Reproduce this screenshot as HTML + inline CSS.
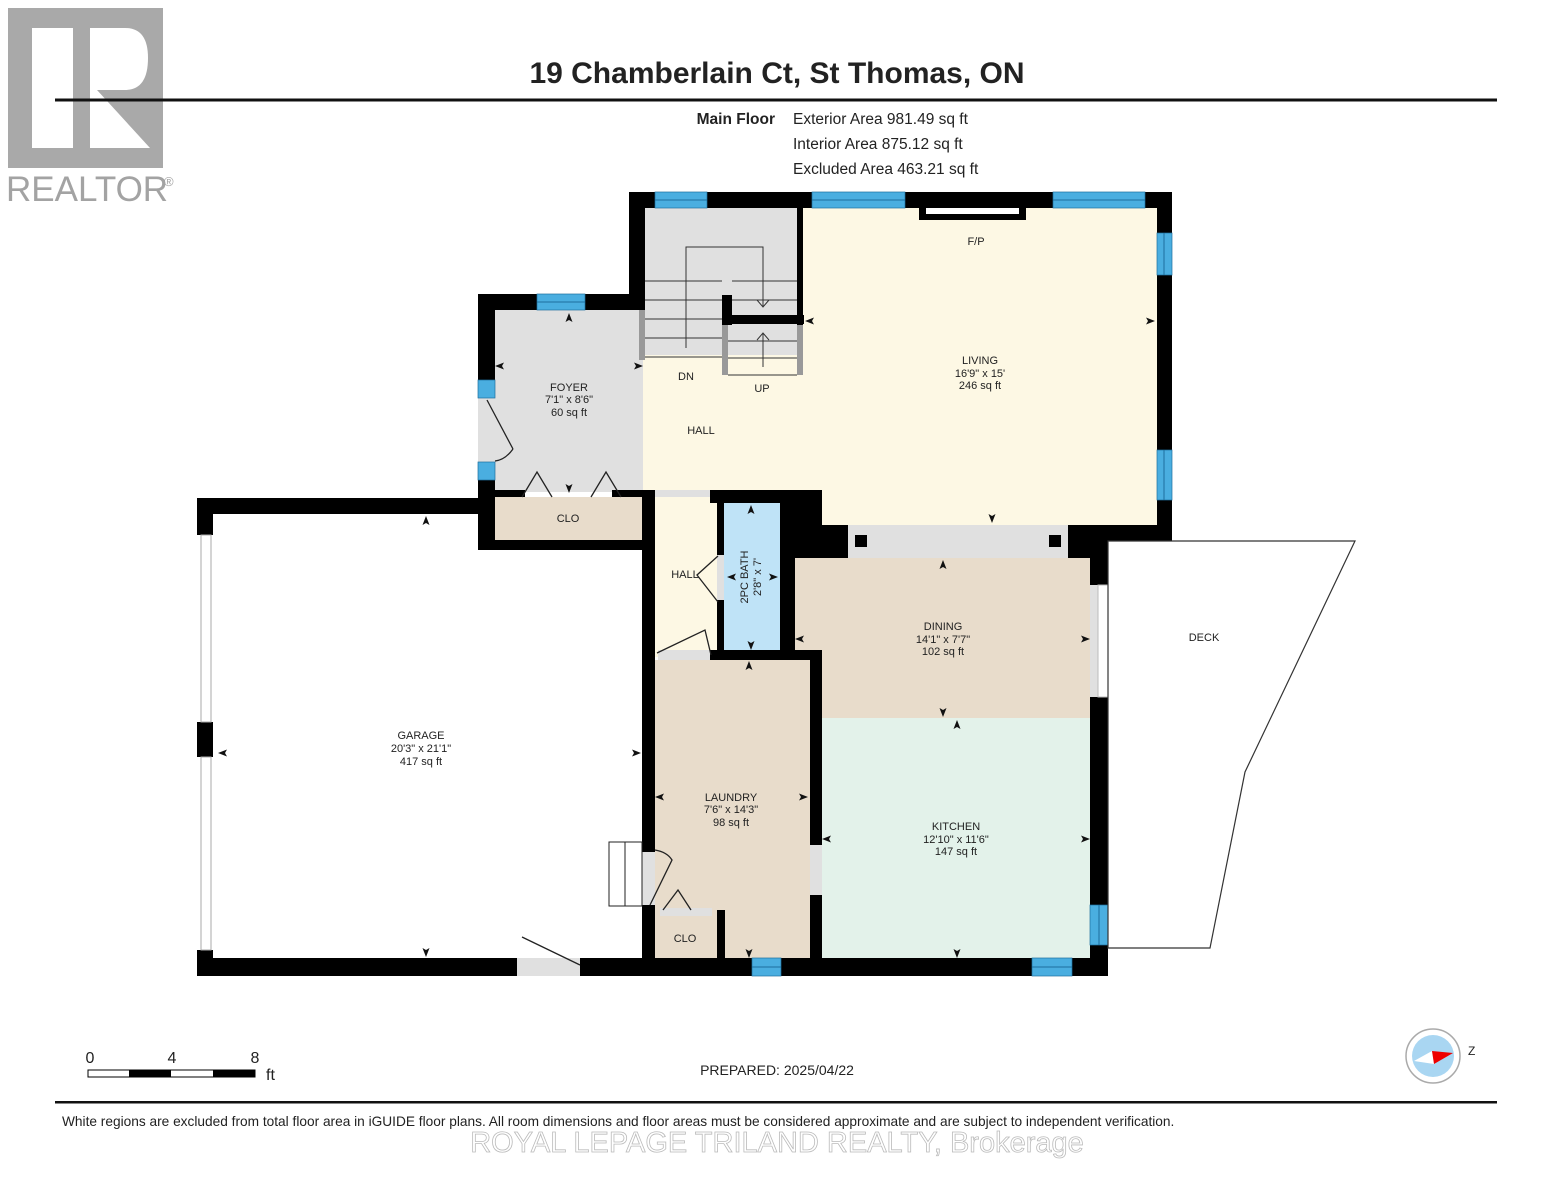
<!DOCTYPE html>
<html><head><meta charset="utf-8"><style>
html,body{margin:0;padding:0;background:#fff;width:1553px;height:1200px;overflow:hidden}
text{font-family:"Liberation Sans",Arial,sans-serif;fill:#222}
</style></head><body>
<svg width="1553" height="1200" viewBox="0 0 1553 1200" xmlns="http://www.w3.org/2000/svg">
<defs>
<path id="au" d="M0,-5 L-3.5,4 L0,2 L3.5,4 Z" fill="#111"/>
<path id="ad" d="M0,5 L-3.5,-4 L0,-2 L3.5,-4 Z" fill="#111"/>
<path id="al" d="M-5,0 L4,-3.5 L2,0 L4,3.5 Z" fill="#111"/>
<path id="ar" d="M5,0 L-4,-3.5 L-2,0 L-4,3.5 Z" fill="#111"/>
</defs>
<!-- logo -->
<rect x="8" y="8" width="155" height="160" fill="#a9a9a9"/>
<rect x="32" y="28" width="41" height="120" fill="#fff"/>
<path d="M90,28 L125,28 Q148,28 148,58 Q148,90 125,90 L97,90 L150,148 L90,148 Z" fill="#fff"/>
<text x="6" y="201" font-size="35" style="fill:#a3a3a3">REALTOR</text>
<text x="164" y="186" font-size="13" style="fill:#a3a3a3">®</text>
<!-- header -->
<text x="777" y="83" font-size="30" font-weight="bold" text-anchor="middle">19 Chamberlain Ct, St Thomas, ON</text>
<rect x="55" y="98.5" width="1442" height="3" fill="#111"/>
<text x="775" y="124" font-size="15.5" font-weight="bold" text-anchor="end">Main Floor</text>
<text x="793" y="124" font-size="15.5">Exterior Area 981.49 sq ft</text>
<text x="793" y="149" font-size="15.5">Interior Area 875.12 sq ft</text>
<text x="793" y="174" font-size="15.5">Excluded Area 463.21 sq ft</text>

<!-- floors -->
<rect x="643" y="208" width="516" height="320" fill="#fdf8e4"/>
<rect x="645" y="208" width="152" height="147" fill="#e0e0e0"/>
<rect x="495" y="310" width="148" height="182" fill="#e0e0e0"/>
<rect x="495" y="497" width="147" height="43" fill="#e8dccb"/>
<rect x="655" y="497" width="64" height="160" fill="#fdf8e4"/>
<rect x="724" y="503" width="56" height="148" fill="#bfe3f7"/>
<rect x="795" y="558" width="296" height="160" fill="#e8dccb"/>
<rect x="822" y="718" width="269" height="242" fill="#e3f2ea"/>
<rect x="655" y="660" width="156" height="300" fill="#e8dccb"/>
<rect x="655" y="912" width="62" height="48" fill="#e8dccb"/>
<rect x="848" y="525" width="220" height="33" fill="#e0e0e0"/>

<!-- walls -->
<g fill="#000">
<rect x="629" y="192" width="543" height="16"/>
<rect x="1157" y="192" width="15" height="350"/>
<rect x="629" y="192" width="16" height="118"/>
<rect x="478" y="294" width="167" height="16"/>
<rect x="478" y="294" width="17" height="256"/>
<rect x="482" y="540" width="173" height="10"/>
<rect x="495" y="490" width="30" height="7"/>
<rect x="612" y="490" width="31" height="7"/>
<rect x="642" y="490" width="13" height="468"/>
<rect x="710" y="490" width="112" height="13"/>
<rect x="717" y="490" width="7" height="65"/>
<rect x="717" y="600" width="7" height="60"/>
<rect x="780" y="490" width="15" height="170"/>
<rect x="780" y="490" width="42" height="35"/>
<rect x="795" y="525" width="53" height="33"/>
<rect x="1068" y="525" width="104" height="17"/>
<rect x="1068" y="525" width="40" height="33"/>
<rect x="710" y="650" width="112" height="10"/>
<rect x="810" y="650" width="12" height="195"/>
<rect x="810" y="895" width="12" height="70"/>
<rect x="1090" y="540" width="18" height="45"/>
<rect x="1090" y="697" width="18" height="279"/>
<rect x="197" y="498" width="285" height="16"/>
<rect x="197" y="498" width="16" height="37"/>
<rect x="197" y="950" width="16" height="26"/>
<rect x="197" y="722" width="16" height="35"/>
<rect x="197" y="958" width="320" height="18"/>
<rect x="580" y="958" width="528" height="18"/>
<rect x="642" y="905" width="13" height="15"/>
<rect x="717" y="910" width="8" height="50"/>
<rect x="722" y="295" width="10" height="30"/>
<rect x="722" y="315" width="82" height="9"/>
<rect x="797" y="208" width="6" height="117"/>
<rect x="855" y="535" width="12" height="12"/>
<rect x="1049" y="535" width="12" height="12"/>
</g>
<!-- light openings -->
<g fill="#e0e0e0">
<rect x="655" y="490" width="55" height="7"/>
<rect x="658" y="650" width="52" height="10"/>
<rect x="717" y="555" width="7" height="45"/>
<rect x="810" y="845" width="12" height="50"/>
<rect x="1090" y="585" width="8" height="112"/>
<rect x="517" y="958" width="63" height="18"/>
<rect x="660" y="908" width="52" height="8"/>
<rect x="642" y="852" width="13" height="53"/>
<rect x="478" y="398" width="17" height="64"/>
</g>
<rect x="1098" y="585" width="10" height="112" fill="#fff" stroke="#bbb"/>
<rect x="201" y="535" width="10" height="187" fill="#fff" stroke="#aaa"/>
<rect x="201" y="757" width="10" height="193" fill="#fff" stroke="#aaa"/>
<g fill="#999"><rect x="639" y="310" width="6" height="50"/><rect x="722" y="325" width="6" height="50"/><rect x="797" y="325" width="6" height="50"/></g>
<g stroke="#333" stroke-width="1" fill="none">
<line x1="645" y1="281" x2="722" y2="281"/><line x1="645" y1="300" x2="722" y2="300"/><line x1="645" y1="319" x2="722" y2="319"/><line x1="645" y1="338" x2="722" y2="338"/><line x1="645" y1="357" x2="722" y2="357"/>
<line x1="732" y1="281" x2="797" y2="281"/><line x1="732" y1="300" x2="797" y2="300"/>
<line x1="728" y1="341" x2="797" y2="341"/><line x1="728" y1="358" x2="797" y2="358"/><line x1="728" y1="375" x2="797" y2="375"/>
<polyline points="686,348 686,247 763,247 763,307"/><polyline points="757,300 763,307 769,300"/>
<line x1="763" y1="367" x2="763" y2="333"/><polyline points="757,340 763,333 769,340"/>
</g>
<g fill="#4aaee0" stroke="#1d6f9e" stroke-width="0.7">
<rect x="655" y="192" width="52" height="16"/><rect x="812" y="192" width="93" height="16"/><rect x="1053" y="192" width="92" height="16"/>
<rect x="537" y="294" width="48" height="16"/>
<rect x="1157" y="233" width="15" height="42"/><rect x="1157" y="450" width="15" height="50"/>
<rect x="478" y="380" width="17" height="18"/><rect x="478" y="462" width="17" height="18"/>
<rect x="752" y="958" width="29" height="18"/><rect x="1032" y="958" width="40" height="18"/>
<rect x="1090" y="905" width="18" height="40"/>
</g>
<g stroke="#1d6f9e" stroke-width="1">
<line x1="655" y1="200" x2="707" y2="200"/><line x1="812" y1="200" x2="905" y2="200"/><line x1="1053" y1="200" x2="1145" y2="200"/><line x1="537" y1="302" x2="585" y2="302"/>
<line x1="752" y1="967" x2="781" y2="967"/><line x1="1032" y1="967" x2="1072" y2="967"/>
<line x1="1164" y1="233" x2="1164" y2="275"/><line x1="1164" y1="450" x2="1164" y2="500"/><line x1="1099" y1="905" x2="1099" y2="945"/>
</g>
<rect x="919" y="208" width="107" height="12" fill="#000"/><rect x="926" y="208" width="93" height="6" fill="#fff"/>
<g stroke="#222" stroke-width="1.3" fill="none">
<path d="M487,400 L513,449"/><path d="M513,449 Q505,460 495,461"/>
<path d="M522,497 L537,472 L552,497"/><path d="M591,497 L606,472 L621,497"/>
<path d="M718,556 L697,575 L718,602"/>
<path d="M657,653 L705,630 L711,655"/>
<path d="M650,905 L672,860 Q667,852 655,850"/>
<path d="M663,910 L678,890 L691,910"/>
<path d="M522,937 L580,965"/>
</g>
<g stroke="#222" stroke-width="1" fill="#fff">
<rect x="609" y="842" width="16" height="64"/><rect x="625" y="842" width="17" height="64"/>
</g>
<polygon points="1108,541 1355,541 1245,772 1210,948 1108,948" fill="#fff" stroke="#333" stroke-width="1.2"/>
<use href="#au" x="569" y="318"/><use href="#ad" x="569" y="488"/><use href="#al" x="500" y="366"/><use href="#ar" x="638" y="366"/>
<use href="#al" x="810" y="321"/><use href="#ar" x="1150" y="321"/><use href="#ad" x="992" y="518"/>
<use href="#au" x="751" y="510"/><use href="#ad" x="751" y="645"/><use href="#al" x="732" y="577"/><use href="#ar" x="773" y="577"/>
<use href="#au" x="943" y="565"/><use href="#ad" x="943" y="712"/><use href="#al" x="800" y="639"/><use href="#ar" x="1085" y="639"/>
<use href="#au" x="957" y="725"/><use href="#ad" x="957" y="953"/><use href="#al" x="827" y="839"/><use href="#ar" x="1085" y="839"/>
<use href="#au" x="749" y="666"/><use href="#ad" x="749" y="953"/><use href="#al" x="660" y="797"/><use href="#ar" x="803" y="797"/>
<use href="#au" x="426" y="521"/><use href="#ad" x="426" y="952"/><use href="#al" x="223" y="753"/><use href="#ar" x="636" y="753"/>
<g font-size="11" text-anchor="middle">
<text x="569" y="391">FOYER</text><text x="569" y="403">7'1" x 8'6"</text><text x="569" y="416">60 sq ft</text>
<text x="686" y="380">DN</text><text x="762" y="392">UP</text><text x="701" y="434">HALL</text>
<text x="976" y="245">F/P</text>
<text x="980" y="364">LIVING</text><text x="980" y="377">16'9" x 15'</text><text x="980" y="389">246 sq ft</text>
<text x="568" y="522">CLO</text><text x="685" y="578">HALL</text>
<text x="943" y="630">DINING</text><text x="943" y="643">14'1" x 7'7"</text><text x="943" y="655">102 sq ft</text>
<text x="956" y="830">KITCHEN</text><text x="956" y="843">12'10" x 11'6"</text><text x="956" y="855">147 sq ft</text>
<text x="731" y="801">LAUNDRY</text><text x="731" y="813">7'6" x 14'3"</text><text x="731" y="826">98 sq ft</text>
<text x="685" y="942">CLO</text>
<text x="421" y="739">GARAGE</text><text x="421" y="752">20'3" x 21'1"</text><text x="421" y="765">417 sq ft</text>
<text x="1204" y="641">DECK</text>
<text transform="translate(748,577) rotate(-90)">2PC BATH</text>
<text transform="translate(761,577) rotate(-90)">2'8" x 7'</text>
</g>
<text x="90" y="1063" font-size="16" text-anchor="middle">0</text><text x="172" y="1063" font-size="16" text-anchor="middle">4</text><text x="255" y="1063" font-size="16" text-anchor="middle">8</text>
<rect x="88" y="1070" width="167" height="7" fill="#fff" stroke="#000"/>
<rect x="129" y="1070" width="42" height="7" fill="#000"/><rect x="213" y="1070" width="42" height="7" fill="#000"/>
<text x="266" y="1080" font-size="16">ft</text>
<text x="777" y="1075" font-size="14" text-anchor="middle">PREPARED: 2025/04/22</text>
<circle cx="1433" cy="1056" r="27" fill="#fff" stroke="#aaa" stroke-width="1.5"/>
<circle cx="1433" cy="1056" r="21" fill="#a9d6f2"/>
<polygon points="1414,1061 1432,1051 1434,1064" fill="#fff"/>
<polygon points="1432,1051 1453,1053 1434,1064" fill="#e00"/>
<text x="1468" y="1055" font-size="12">Z</text>
<rect x="55" y="1101" width="1442" height="2.5" fill="#111"/>
<text x="62" y="1126" font-size="13.7">White regions are excluded from total floor area in iGUIDE floor plans. All room dimensions and floor areas must be considered approximate and are subject to independent verification.</text>
<text x="777" y="1152" font-size="29" text-anchor="middle" style="fill:#fff;stroke:#bbb;stroke-width:0.8">ROYAL LEPAGE TRILAND REALTY, Brokerage</text>
</svg>
</body></html>
